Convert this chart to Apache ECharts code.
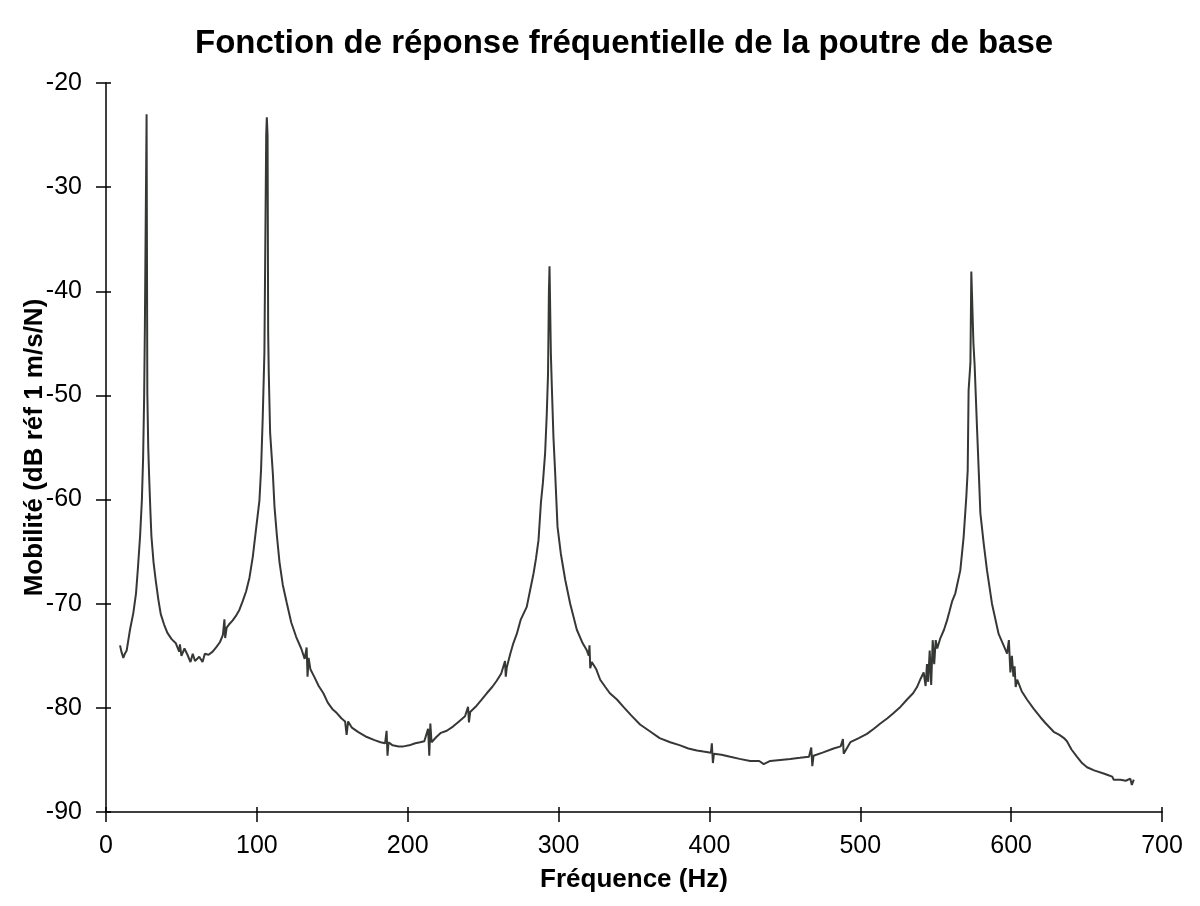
<!DOCTYPE html>
<html>
<head>
<meta charset="utf-8">
<script src="https://cdn.jsdelivr.net/npm/echarts@6/dist/echarts.min.js"></script>
<style>
html,body{margin:0;padding:0;background:#fff;}
#chart{width:1200px;height:906px;}
</style>
</head>
<body>
<div id="chart"></div>
<script>
const titleText = "Fonction de réponse fréquentielle de la poutre de base";
const xAxisName = "Fréquence (Hz)";
const yAxisName = "Mobilité (dB réf 1 m/s/N)";

const xTicks = [0, 100, 200, 300, 400, 500, 600, 700];
const yTicks = [-90, -80, -70, -60, -50, -40, -30, -20];

const freq = [
  9.3,10.2,11.5,12.5,13.7,15.9,18.1,19.9,21.2,22.6,23.8,24.6,25.3,25.8,26.4,26.9,27.2,27.4,28.0,28.6,
  29.4,30.1,31.5,33.0,34.7,36.3,38.5,40.7,43.5,46.3,48.5,49.0,50.0,52.0,54.0,56.0,57.5,59.0,61.8,64.0,
  65.5,68.0,70.7,73.0,75.5,77.5,78.5,79.0,80.0,81.5,84.0,86.0,88.4,90.5,92.9,95.1,97.3,99.5,101.7,102.8,
  103.9,105.0,105.7,106.2,106.6,107.1,107.5,107.9,108.8,110.6,111.7,113.3,115.0,117.2,119.8,122.8,126.1,129.4,131.7,133.0,
  133.6,134.3,135.5,138.0,141.0,144.1,147.0,150.0,153.0,156.0,158.5,159.5,160.5,163.0,167.0,172.9,178.0,182.0,185.0,186.0,
  186.6,187.3,190.0,194.0,197.2,201.0,205.0,208.2,211.0,213.5,214.3,215.0,215.8,219.0,222.0,225.9,230.0,234.0,238.0,240.0,
  240.6,241.4,245.0,249.0,252.4,256.0,259.0,262.0,264.5,265.0,265.7,268.0,270.0,272.3,275.0,278.9,281.0,283.4,285.0,286.7,
  288.3,289.6,291.1,292.2,293.0,293.6,294.0,294.5,294.9,295.5,296.6,297.7,299.3,301.5,304.4,307.7,312.1,316.0,318.8,320.0,
  320.5,321.0,322.0,325.0,327.6,331.0,334.0,338.7,343.0,348.0,354.0,360.0,367.0,374.0,380.6,386.0,391.7,396.0,401.0,401.6,
  402.3,403.0,408.0,413.8,420.0,427.0,433.0,436.0,440.3,447.0,453.6,460.0,466.0,467.5,468.2,469.0,475.0,482.3,487.0,488.5,
  489.0,493.4,499.0,504.4,509.0,513.3,518.0,522.1,526.0,531.0,535.0,537.6,540.0,542.0,543.3,544.2,545.0,546.0,547.0,548.0,
  549.0,550.0,551.0,553.1,555.5,557.5,559.0,560.8,563.0,566.3,568.5,570.3,571.2,571.8,573.0,573.6,574.5,575.0,575.8,577.4,
  578.5,579.6,581.8,584.0,587.3,591.7,595.0,597.3,598.5,599.5,600.5,601.5,602.3,603.0,604.0,607.0,610.5,615.0,619.4,623.0,
  628.2,632.0,635.0,637.0,640.0,643.7,647.0,650.3,655.0,661.3,665.0,667.0,668.0,672.4,676.0,679.0,680.0,681.3
];

const mobility = [
  -74.0,-74.6,-75.2,-74.8,-74.5,-72.5,-70.9,-69.0,-66.5,-63.5,-60.0,-56.0,-50.0,-43.0,-43.0,-23.0,-23.0,-49.8,-55.0,-57.8,
  -61.0,-63.5,-66.0,-67.8,-69.6,-71.0,-72.0,-72.8,-73.4,-73.8,-74.6,-73.9,-75.0,-74.3,-74.9,-75.6,-74.8,-75.5,-75.1,-75.6,
  -74.8,-74.9,-74.6,-74.2,-73.7,-73.0,-71.5,-73.3,-72.3,-72.0,-71.6,-71.2,-70.6,-69.8,-68.8,-67.5,-65.5,-62.8,-60.1,-57.1,
  -52.1,-45.9,-45.9,-25.0,-23.3,-25.0,-44.0,-47.9,-53.6,-57.5,-60.7,-63.5,-66.0,-68.2,-69.9,-71.8,-73.2,-74.3,-75.3,-74.2,
  -77.0,-75.2,-76.3,-77.0,-77.9,-78.6,-79.5,-80.1,-80.5,-81.0,-81.3,-82.6,-81.3,-81.9,-82.3,-82.8,-83.1,-83.3,-83.4,-82.2,
  -84.6,-83.3,-83.6,-83.7,-83.7,-83.6,-83.4,-83.3,-83.2,-82.0,-84.6,-81.5,-83.3,-82.8,-82.4,-82.2,-81.8,-81.3,-80.8,-79.9,
  -81.4,-80.4,-79.9,-79.2,-78.6,-78.0,-77.4,-76.7,-75.5,-77.0,-76.1,-74.8,-73.8,-72.9,-71.5,-70.3,-68.8,-67.1,-65.7,-63.9,
  -60.3,-58.4,-55.5,-51.7,-48.0,-40.0,-37.6,-37.6,-46.0,-49.0,-54.0,-57.3,-62.6,-65.2,-67.7,-70.0,-72.5,-73.8,-74.5,-75.0,
  -74.0,-76.2,-75.6,-76.3,-77.3,-78.0,-78.6,-79.2,-79.9,-80.7,-81.6,-82.2,-82.9,-83.3,-83.6,-83.9,-84.1,-84.2,-84.3,-83.4,
  -85.3,-84.4,-84.5,-84.7,-84.9,-85.1,-85.1,-85.4,-85.1,-85.0,-84.9,-84.8,-84.7,-83.8,-85.6,-84.6,-84.3,-83.9,-83.7,-83.0,
  -84.4,-83.3,-82.9,-82.5,-82.0,-81.5,-81.0,-80.5,-80.0,-79.2,-78.6,-78.0,-77.2,-76.6,-77.9,-75.8,-77.5,-74.5,-77.8,-73.5,
  -75.8,-73.5,-74.3,-73.3,-72.5,-71.6,-70.8,-69.8,-69.0,-66.8,-63.6,-59.7,-57.2,-49.5,-46.9,-38.1,-38.1,-45.0,-47.1,-53.2,
  -57.2,-61.3,-64.2,-66.8,-70.0,-72.9,-74.0,-74.8,-73.5,-76.6,-75.0,-77.0,-76.0,-78.0,-77.3,-78.4,-79.2,-80.1,-80.9,-81.5,
  -82.3,-82.6,-82.9,-83.2,-84.0,-84.7,-85.3,-85.7,-86.0,-86.3,-86.5,-86.6,-86.9,-86.9,-87.0,-86.8,-87.4,-86.9
];

const seriesData = freq.map((f, i) => [f, mobility[i]]);

const labelFont = '"Liberation Sans", Arial, sans-serif';
const boldFont = '"Liberation Sans", Arial, sans-serif';

const chart = echarts.init(document.getElementById('chart'), null, {renderer: 'canvas'});
chart.setOption({
  backgroundColor: '#ffffff',
  animation: false,
  title: {
    text: titleText,
    left: 190,
    top: 22,
    textStyle: {fontFamily: boldFont, fontWeight: 'bold', fontSize: 33, color: '#000'}
  },
  grid: {left: 106, right: 38, top: 83, bottom: 94, containLabel: false},
  xAxis: [{
    type: 'value',
    min: xTicks[0], max: xTicks[xTicks.length - 1], interval: 100,
    name: xAxisName,
    nameLocation: 'middle',
    nameGap: 55,
    nameMoveOverlap: false,
    nameTextStyle: {fontFamily: boldFont, fontWeight: 'bold', fontSize: 26, color: '#000'},
    axisLine: {show: true, lineStyle: {color: '#000', width: 1.5}},
    axisTick: {show: true, inside: false, length: 10, lineStyle: {color: '#000', width: 1.5}},
    axisLabel: {margin: 22, fontFamily: labelFont, fontSize: 25, color: '#000'},
    splitLine: {show: false}
  }, {
    type: 'value',
    position: 'bottom',
    min: xTicks[0], max: xTicks[xTicks.length - 1], interval: 100,
    axisLine: {show: false},
    axisTick: {show: true, inside: true, length: 5, lineStyle: {color: '#000', width: 1.5}},
    axisLabel: {show: false},
    splitLine: {show: false}
  }],
  yAxis: [{
    type: 'value',
    min: yTicks[0], max: yTicks[yTicks.length - 1], interval: 10,
    name: yAxisName,
    nameLocation: 'middle',
    nameGap: 58,
    nameRotate: 90,
    nameMoveOverlap: false,
    nameTextStyle: {fontFamily: boldFont, fontWeight: 'bold', fontSize: 26, color: '#000'},
    axisLine: {show: true, lineStyle: {color: '#000', width: 1.5}},
    axisTick: {show: true, inside: false, length: 10, lineStyle: {color: '#000', width: 1.5}},
    axisLabel: {margin: 24, fontFamily: labelFont, fontSize: 25, color: '#000'},
    splitLine: {show: false}
  }, {
    type: 'value',
    position: 'left',
    min: yTicks[0], max: yTicks[yTicks.length - 1], interval: 10,
    axisLine: {show: false},
    axisTick: {show: true, inside: true, length: 5, lineStyle: {color: '#000', width: 1.5}},
    axisLabel: {show: false},
    splitLine: {show: false}
  }],
  series: [{
    type: 'line',
    data: seriesData,
    xAxisIndex: 0,
    yAxisIndex: 0,
    showSymbol: false,
    symbol: 'none',
    smooth: false,
    lineStyle: {color: '#363836', width: 2},
    z: 3
  }]
});
</script>
</body>
</html>
